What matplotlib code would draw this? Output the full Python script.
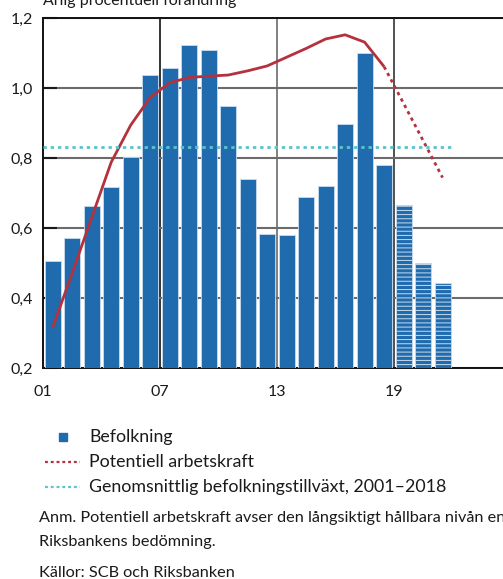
import matplotlib.pyplot as plt
from matplotlib.lines import Line2D
from matplotlib.patches import Rectangle
import numpy as np

plt.rcParams['font.family'] = ['Lato', 'DejaVu Sans']

# Befolkningstillväxt 2001-2021, årlig procentuell förändring
years = list(range(2001, 2022))
befolkning = [0.505, 0.572, 0.663, 0.716, 0.804, 1.036, 1.058, 1.124, 1.108, 0.949,
              0.740, 0.582, 0.580, 0.689, 0.720, 0.896, 1.099, 0.780,
              0.666, 0.501, 0.444]
prognos_start = 2019

# Potentiell arbetskraft (utfall till 2018, bedömning därefter)
arbetskraft = [0.316, 0.472, 0.630, 0.788, 0.894, 0.973, 1.015, 1.030, 1.034, 1.037,
               1.049, 1.063, 1.088, 1.113, 1.140, 1.152, 1.131, 1.061,
               0.956, 0.850, 0.744]
medel_tillvaxt = 0.831  # genomsnitt 2001-2018

xtick_labels = ['01', '07', '13', '19']
ytick_vals = [0.2, 0.4, 0.6, 0.8, 1.0, 1.2]

BLUE = '#1f6bae'
RED = '#b3323d'
CYAN = '#5cc3cc'
TXT = '#1a1a1a'

fig = plt.figure(figsize=(5.03, 5.79), dpi=100)
ax = fig.add_axes([43 / 503, 1 - 368 / 579, 1 - 43 / 503, 350 / 579])

x = np.arange(len(years)) + 0.5
hist = np.array(years) < prognos_start
ax.bar(x[hist], np.array(befolkning)[hist] - 0.2, bottom=0.2, width=0.82,
       color=BLUE, edgecolor='#c9dcee', linewidth=0.6, zorder=3)
plt.rcParams['hatch.linewidth'] = 0.7
plt.rcParams['hatch.color'] = 'white'
ax.bar(x[~hist], np.array(befolkning)[~hist] - 0.2, bottom=0.2, width=0.82,
       color=BLUE, edgecolor='#c9dcee', linewidth=0.6, hatch='----', zorder=3)

# Arbetskraft: heldragen för utfall, prickad för prognos
n_hist = int(hist.sum())
ax.plot(x[:n_hist], arbetskraft[:n_hist], color=RED, lw=2.0, zorder=4,
        solid_capstyle='butt')
ax.plot(x[n_hist - 1:], arbetskraft[n_hist - 1:], color=RED, lw=2.0,
        ls=(0, (1.2, 1.4)), zorder=4)
ax.plot([0, 21], [medel_tillvaxt, medel_tillvaxt], color=CYAN, lw=2.0,
        ls=(0, (1.2, 1.4)), zorder=4)

ax.set_xlim(0, 23.6)
ax.set_ylim(0.2, 1.2)

ax.set_xticks([0, 6, 12, 18])
ax.set_xticklabels(xtick_labels)
ax.set_yticks(ytick_vals)
ax.set_yticklabels([f'{v:.1f}'.replace('.', ',') for v in ytick_vals])
ax.tick_params(axis='x', length=0, pad=12, labelsize=11.5, colors=TXT)
ax.tick_params(axis='y', direction='in', length=10, width=1.5, pad=7,
               labelsize=11.5, colors=TXT)

ax.grid(axis='y', color='#6b6b6b', lw=1.5, zorder=1)
for xv, c in [(6, '#111111'), (12, '#6b6b6b'), (18, '#333333')]:
    ax.axvline(xv, color=c, lw=1.2, zorder=1)

ax.spines['right'].set_visible(False)
for s in ['left', 'bottom', 'top']:
    ax.spines[s].set_color('#111111')
    ax.spines[s].set_linewidth(1.4)

fig.text(43 / 503, 1 - 5 / 579, 'Årlig procentuell förändring', fontsize=11.5,
         color=TXT, va='baseline', ha='left')


def fy(py):
    return 1 - py / 579


def fx(px):
    return px / 503


# Teckenförklaring
fig.add_artist(Rectangle((fx(59), fy(441)), 8 / 503, 8 / 579, color=BLUE,
                         transform=fig.transFigure))
fig.add_artist(Line2D([fx(45), fx(80)], [fy(462), fy(462)], color=RED, lw=1.6,
                      ls=(0, (1.3, 1.3)), transform=fig.transFigure))
fig.add_artist(Line2D([fx(45), fx(80)], [fy(487), fy(487)], color=CYAN, lw=1.6,
                      ls=(0, (1.3, 1.3)), transform=fig.transFigure))
legend_text = ['Befolkning', 'Potentiell arbetskraft',
               'Genomsnittlig befolkningstillväxt, 2001–2018']
for py, txt in zip([437, 462, 487], legend_text):
    fig.text(fx(89), fy(py), txt, fontsize=12.8, color=TXT, va='center')

fig.text(fx(39), fy(518), 'Anm. Potentiell arbetskraft avser den långsiktigt hållbara nivån enligt',
         fontsize=11.7, color=TXT, va='center')
fig.text(fx(39), fy(542), 'Riksbankens bedömning.', fontsize=11.7, color=TXT,
         va='center')
fig.text(fx(39), fy(573), 'Källor: SCB och Riksbanken', fontsize=11.7,
         color=TXT, va='center')

fig.savefig('out.png', dpi=100)
